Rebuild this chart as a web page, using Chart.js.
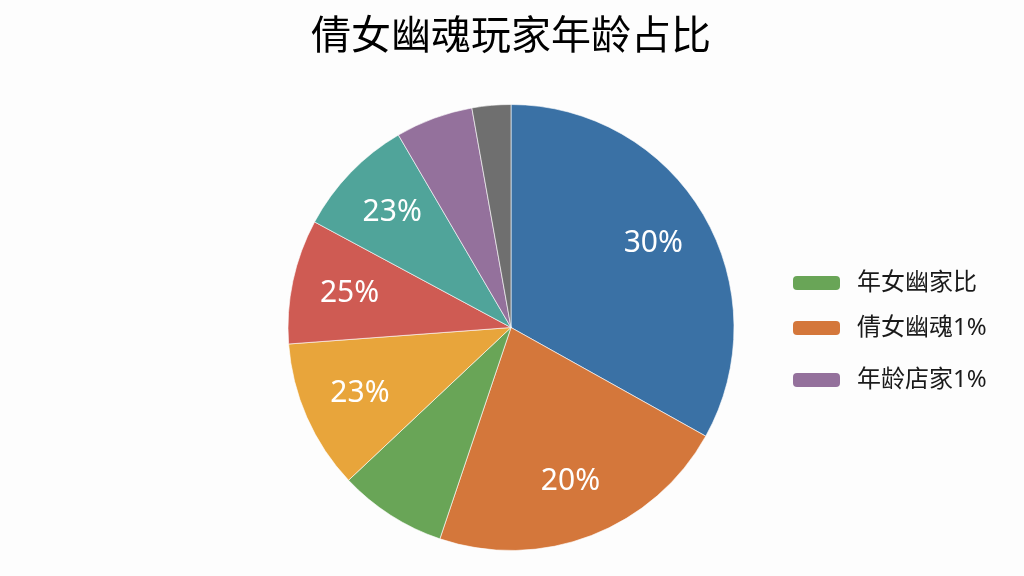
<!DOCTYPE html>
<html>
<head>
<meta charset="utf-8">
<script src="https://cdn.jsdelivr.net/npm/chart.js@4/dist/chart.umd.min.js"></script>
<style>
  html, body { margin: 0; padding: 0; background: #fdfdfd; }
  #wrap { width: 1024px; height: 576px; }
</style>
</head>
<body>
<div id="wrap"><canvas id="pieChart" width="1024" height="576"></canvas></div>
<script>
// Data (clockwise from 12 o'clock)
const sliceNames = ['蓝', '橙', '绿', '黄', '红', '青', '紫', '灰'];
const sliceValues = [33, 22, 7.8, 10.8, 9, 8.7, 5.6, 2.8];
const sliceColors = ['#3a71a5', '#d4773b', '#69a557', '#e8a53b', '#cf5b53', '#50a49a', '#94719c', '#6f6f6f'];
// text printed on the slices ('' = no text)
const sliceTexts = ['30%', '20%', '', '23%', '25%', '23%', '', ''];

// legend shown on the right
const legendTexts = ['年女幽家比', '倩女幽魂1%', '年龄店家1%'];
const legendColors = ['#69a557', '#d4773b', '#94719c'];

const FONT = '"Noto Sans", "Noto Sans CJK SC", sans-serif';

// white percentage text inside slices
const sliceTextPlugin = {
    id: 'sliceText',
    afterDatasetsDraw(chart) {
        const ctx = chart.ctx;
        const meta = chart.getDatasetMeta(0);
        ctx.save();
        ctx.fillStyle = '#ffffff';
        ctx.font = '30px ' + FONT;
        ctx.textAlign = 'center';
        ctx.textBaseline = 'middle';
        meta.data.forEach((arc, i) => {
            if (!sliceTexts[i]) return;
            const p = arc.getProps(['x', 'y', 'startAngle', 'endAngle', 'outerRadius'], true);
            const mid = (p.startAngle + p.endAngle) / 2;
            const r = p.outerRadius * 0.74;
            ctx.fillText(sliceTexts[i], p.x + Math.cos(mid) * r, p.y + Math.sin(mid) * r);
        });
        ctx.restore();
    }
};

// simple legend on the right
const sideLegendPlugin = {
    id: 'sideLegend',
    afterDraw(chart) {
        const ctx = chart.ctx;
        const rows = [283, 328, 380];
        ctx.save();
        ctx.font = '24px ' + FONT;
        ctx.textBaseline = 'middle';
        ctx.textAlign = 'left';
        legendTexts.forEach((t, i) => {
            const y = rows[i];
            ctx.fillStyle = legendColors[i];
            ctx.beginPath();
            ctx.roundRect(793, y - 7, 47, 14, 4);
            ctx.fill();
            ctx.fillStyle = '#1a1a1a';
            ctx.fillText(t, 857, y);
        });
        ctx.restore();
    }
};

new Chart(document.getElementById('pieChart'), {
    type: 'pie',
    data: {
        labels: sliceNames,
        datasets: [{
            data: sliceValues,
            backgroundColor: sliceColors,
            borderColor: 'rgba(255,255,255,0.6)',
            borderWidth: 1
        }]
    },
    options: {
        responsive: false,
        animation: false,
        layout: { padding: { left: 200, right: 202, top: 0, bottom: 25 } },
        plugins: {
            legend: { display: false },
            tooltip: { enabled: false },
            title: {
                display: true,
                text: '倩女幽魂玩家年龄占比',
                color: '#000000',
                font: { size: 40, family: FONT, weight: 'normal' },
                padding: { top: 14, bottom: 42 }
            }
        }
    },
    plugins: [sliceTextPlugin, sideLegendPlugin]
});
</script>
</body>
</html>
